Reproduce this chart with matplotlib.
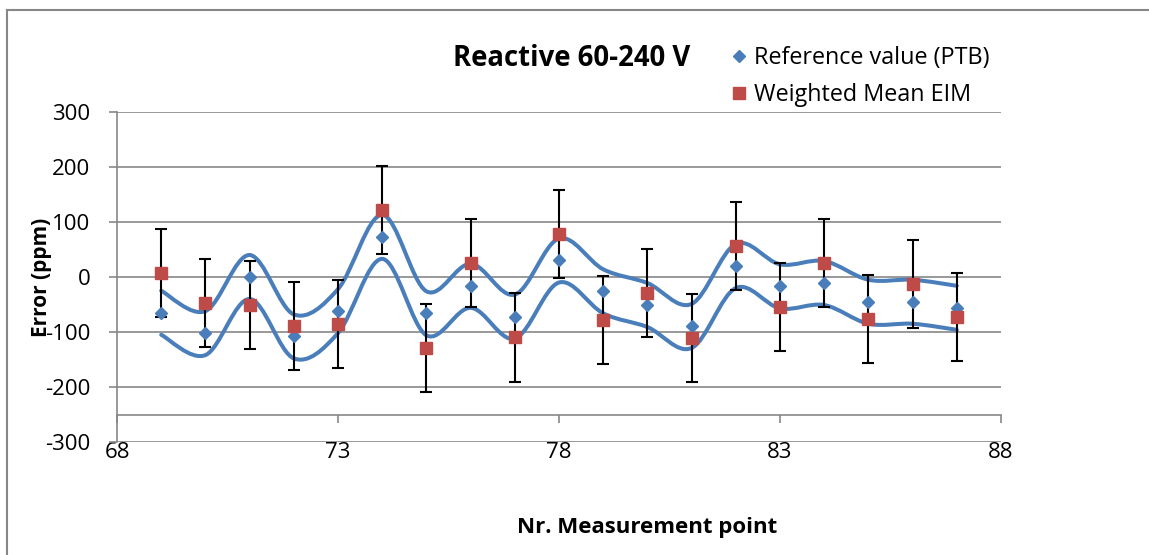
import numpy as np
import matplotlib
matplotlib.use("Agg")
import matplotlib.pyplot as plt
from matplotlib.path import Path
from matplotlib.patches import PathPatch
from matplotlib.lines import Line2D

plt.rcParams['font.family'] = ['Open Sans', 'DejaVu Sans']
plt.rcParams['axes.unicode_minus'] = False

points = [69, 70, 71, 72, 73, 74, 75, 76, 77, 78, 79, 80, 81, 82, 83, 84, 85, 86, 87]
ref_ptb = [-65, -102, 0, -108, -62, 73, -66, -16, -72, 30, -26, -51, -89, 20, -17, -11, -45, -45, -56]
wmean_eim = [8, -48, -51, -89, -86, 121, -129, 26, -110, 79, -78, -30, -111, 57, -55, 25, -77, -12, -72]
wmean_err = [80, 80, 80, 80, 80, 80, 80, 80, 80, 80, 80, 80, 80, 80, 80, 80, 80, 80, 80]
band_upper = [-25, -62, 40, -68, -22, 113, -26, 24, -32, 70, 14, -11, -49, 60, 23, 29, -5, -5, -16]
band_lower = [-105, -142, -40, -148, -102, 33, -106, -56, -112, -10, -66, -91, -129, -20, -57, -51, -85, -85, -96]

x_ticks = [68, 73, 78, 83, 88]
y_ticks = [-300, -200, -100, 0, 100, 200, 300]

GRID = '#878787'
BLUE = '#4A7EBB'
RED = '#BE4B48'


def smooth_path(xs, ys):
    # bezier path like the "smoothed line" option of a spreadsheet chart
    pts = np.column_stack([xs, ys]).astype(float)
    n = len(pts)
    verts = [pts[0]]
    codes = [Path.MOVETO]
    for i in range(n - 1):
        p0 = pts[max(i - 1, 0)]
        p1 = pts[i]
        p2 = pts[i + 1]
        p3 = pts[min(i + 2, n - 1)]
        c1 = p1 + (p2 - p0) / 6.0
        c2 = p2 - (p3 - p1) / 6.0
        verts += [c1, c2, p2]
        codes += [Path.CURVE4] * 3
    return Path(verts, codes)


fig = plt.figure(figsize=(11.49, 5.55), dpi=100)
ax = fig.add_axes([117 / 1149, 1 - 442 / 555, (1001 - 117) / 1149, 330 / 555])

for band in (band_upper, band_lower):
    ax.add_patch(PathPatch(smooth_path(points, band), fill=False, edgecolor=BLUE,
                           lw=2.9, capstyle='round', zorder=2))

ax.errorbar(points, wmean_eim, yerr=wmean_err, fmt='none', ecolor='black',
            elinewidth=1.5, capsize=4.2, capthick=1.5, zorder=3)
ax.plot(points, ref_ptb, 'D', color=BLUE, ms=6.2, mec=BLUE, zorder=4,
        label='Reference value (PTB)')
ax.plot(points, wmean_eim, 's', color=RED, ms=8.4, mec=RED, zorder=5,
        label='Weighted Mean EIM')

ax.set_xlim(68, 88)
ax.set_ylim(-300, 300)
ax.set_xticks(x_ticks)
ax.set_yticks(y_ticks)
ax.yaxis.grid(True, color=GRID, lw=1.2)
ax.set_axisbelow(True)

for s in ('top', 'right'):
    ax.spines[s].set_visible(False)
ax.spines['left'].set_color(GRID)
ax.spines['left'].set_linewidth(1.2)
ax.spines['bottom'].set_position(('data', -250))
ax.spines['bottom'].set_color(GRID)
ax.spines['bottom'].set_linewidth(1.2)

ax.tick_params(axis='y', direction='out', length=6, width=1.2, color=GRID,
               labelsize=16, pad=13)
ax.tick_params(axis='x', direction='out', length=6, width=1.2, color=GRID,
               labelsize=16, pad=14)

fig.text(41 / 1149, 1 - 277 / 555, 'Error (ppm)', rotation=90, fontsize=15,
         fontweight='bold', ha='center', va='center')
fig.text(647 / 1149, 1 - 528 / 555, 'Nr. Measurement point', fontsize=16,
         fontweight='bold', ha='center', va='center')
fig.text(572 / 1149, 1 - 58 / 555, 'Reactive 60-240 V', fontsize=19.8,
         fontweight='bold', ha='center', va='center')

fig.legend(loc='upper left', bbox_to_anchor=(731 / 1149, 1 - 46 / 555),
           frameon=False, fontsize=16.8, handlelength=0.7, handletextpad=0.3,
           labelspacing=0.55, borderaxespad=0, borderpad=0)

# chart border, cut off at right and bottom edge
fig.add_artist(Line2D([7 / 1149, 7 / 1149], [0, 1 - 10 / 555], color=GRID, lw=1.5,
                      transform=fig.transFigure))
fig.add_artist(Line2D([7 / 1149, 1], [1 - 10 / 555, 1 - 10 / 555], color=GRID, lw=1.5,
                      transform=fig.transFigure))

fig.savefig('out.png', dpi=100)
